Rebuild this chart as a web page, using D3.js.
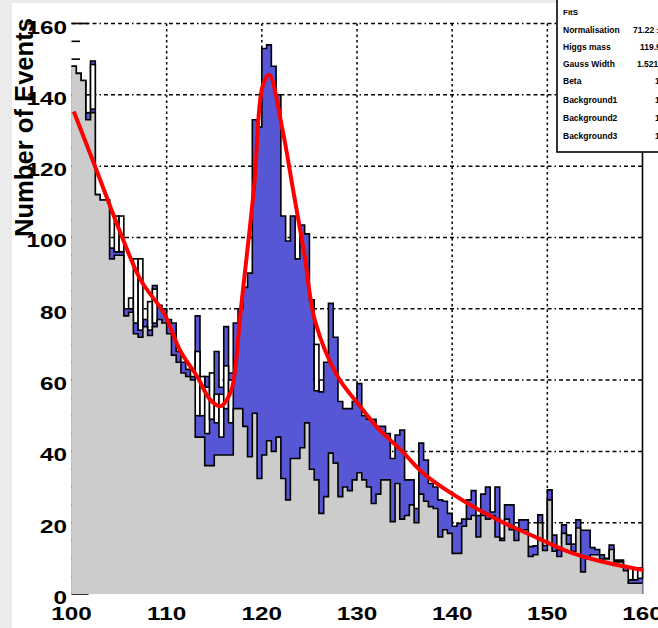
<!DOCTYPE html>
<html><head><meta charset="utf-8">
<script src="https://cdn.jsdelivr.net/npm/d3@7"></script>
<style>body{margin:0;background:#fff;} svg{display:block;}</style>
</head><body>
<svg id="c" width="658" height="628"></svg>
<script>
// ---------------- data ----------------
const xRange = [100, 160];
const binWidth = 0.5;
const blueCounts = [148,146,144,135,149.5,112,110.5,110.5,97,96, 96,80,80,76,74,77,74,86.5,81,80,
  77,76,68,65,63,61,78,55,61,49, 68,58,75,62,76,80,86,90,133,131,
  153,154,148,140,106,99,106,94,103.5,101, 82.5,60,56.7,65,81.5,72,54,52,52,54,
  59,50,49,49,47,47,45,38,44.6,46, 32,32,24,42.3,37.6,31,30,26.4,26,22.6,
  19,19.8,21,26.4,29,22,28,30,23,30, 15.6,25,25,18,20.8,20.8,13.3,13.5,22.2,13.6,
  29.2,16.5,12.3,19.4,16.5,14,20.8,17.9,17.9,13, 12.5,11,10,13.7,9.5,9.5,7.5,4,4,4.4];
const grayCounts = [148,146,144,133,135,112,110.5,110.5,94,95, 95,78,79,73,72,75,72.5,75,77,76,
  73,67,65,62,61,60,44,44,36,36, 39,39,39,39,52,52,47,38.5,50.7,32.4,
  39,43,40,44,32.4,26.4,38,38,41,48, 35,32,22.6,27.3,39.5,36.7,27.3,30,29,32,
  34,32,30,25.4,28,32,32,20.3,31,21, 22,25,20,28,26,24.5,24,16,18,17,
  11.4,11.4,19,21,22,16,22,21,22,16, 15,21,18,15,17.9,18,10.5,11,20,12.2,
  26.4,12,10.5,17,14,12,18.5,6.2,10,11, 11,9.8,9.8,12.5,9,9,6.5,3,3,3];
// white boxes (bin index, low, high)
const boxBins = [3,4,9,10,12,13,14,16,17,26,27,28,29,30,31,32,33,51,117,118,119];
const boxLow  = [135,136,96,96,80,76,74,74,76,50,50,45,49,48,44,52,48,57,4,4,4.4];
const boxHigh = [140,148.5,106,106,83,94,94,82,85.5,68,61,58,62,56,56,64,60,70,7.3,7.3,7.3];
// fit curve
const fitX = [100.24,102.35,105.16,107.26,109.72,111.47,113.2,114.6,115.7,116.7,117.1,117.79,119.19,120.07,120.77,122.18,123.23,124.45,125.6,127.97,130.07,132.2,134.6,136.7,138.1,141.65,145.16,148.66,152.2,155.7,160.07];
const fitY = [135.3,120.8,101.2,88.1,78.7,68,61,54.4,52.7,56.4,61,79.6,114.2,142.3,145.6,130.1,114.2,95.6,76.5,61,53.5,46.5,40.4,34.5,31.5,25.4,20.3,16.1,11.9,9.1,6.7];
const xTicks = [100,110,120,130,140,150,160];
const yTicks = [0,20,40,60,80,100,120,140,160];
const statTitle = "FitS";
const statNames = ["Normalisation","Higgs mass","Gauss Width","Beta","Background1","Background2","Background3"];
const statValues = ["71.22 \u00b1 4.1","119.9 \u00b1 0.2","1.521 \u00b1 0.2","1.0","1.0","1.0","1.0"];

// ---------------- drawing ----------------
const svg = d3.select("#c");
const W = 658, H = 628;
svg.append("rect").attr("width", W).attr("height", H).attr("fill", "#ebebeb");
svg.append("rect").attr("x", 12).attr("y", 3).attr("width", W - 12).attr("height", H - 3).attr("fill", "#ffffff");

const x = d3.scaleLinear().domain(xRange).range([71.5, 642.5]);
const y = d3.scaleLinear().domain([0, 160]).range([594, 23.5]);
const edges = d3.range(blueCounts.length).map(i => xRange[0] + i * binWidth);

const grid = svg.append("g").attr("stroke", "#000").attr("stroke-width", 1.5).attr("fill", "none");
yTicks.filter(v => v > 0).forEach(v => {
  grid.append("line").attr("x1", x(100)).attr("x2", x(160)).attr("y1", y(v)).attr("y2", y(v))
    .attr("stroke-dasharray", "4,3,4,3,4,3,4,3,1.5,3");
});
xTicks.filter(v => v > 100 && v < 160).forEach(v => {
  grid.append("line").attr("x1", x(v)).attr("x2", x(v)).attr("y1", y(160)).attr("y2", y(0))
    .attr("stroke-dasharray", "2.5,3");
});
// frame right edge
svg.append("line").attr("x1", x(160)).attr("x2", x(160)).attr("y1", y(160)).attr("y2", y(0))
  .attr("stroke", "#000").attr("stroke-width", 1.6);

// y ticks (major + minor)
const tickG = svg.append("g").attr("stroke", "#000").attr("stroke-width", 1.6);
d3.range(0, 161, 5).forEach(v => {
  const major = v % 20 === 0;
  tickG.append("line").attr("x1", x(100)).attr("x2", x(100) + (major ? 17 : 8.5))
    .attr("y1", y(v)).attr("y2", y(v));
});

function stepPoints(vals) {
  const pts = vals.map((v, i) => [edges[i], v]);
  pts.push([xRange[1], vals[vals.length - 1]]);
  return pts;
}
const area = d3.area().x(d => x(d[0])).y0(y(0)).y1(d => y(d[1])).curve(d3.curveStepAfter);
const line = d3.line().x(d => x(d[0])).y(d => y(d[1])).curve(d3.curveStepAfter);

// blue histogram
const bp = stepPoints(blueCounts);
svg.append("path").attr("d", area(bp)).attr("fill", "#5757d6");
svg.append("path").attr("d", line(bp)).attr("fill", "none").attr("stroke", "#000").attr("stroke-width", 1.6);

// white boxes
svg.append("g").selectAll("rect").data(boxBins.map((b, k) => ({b, lo: boxLow[k], hi: boxHigh[k]})))
  .join("rect")
  .attr("x", d => x(edges[d.b])).attr("width", d => x(edges[d.b] + binWidth) - x(edges[d.b]))
  .attr("y", d => y(d.hi)).attr("height", d => y(d.lo) - y(d.hi))
  .attr("fill", "#fff").attr("stroke", "#000").attr("stroke-width", 1.6);

// gray histogram
const gp = stepPoints(grayCounts);
svg.append("path").attr("d", area(gp)).attr("fill", "#cccccc");
svg.append("path").attr("d", line(gp)).attr("fill", "none").attr("stroke", "#000").attr("stroke-width", 1.6);

// fit curve
svg.append("path")
  .attr("d", d3.line().x(d => x(d[0])).y(d => y(d[1])).curve(d3.curveCatmullRom.alpha(0.5))(fitX.map((v, i) => [v, fitY[i]])))
  .attr("fill", "none").attr("stroke", "#ff0000").attr("stroke-width", 4).attr("stroke-linejoin", "round");

// axis labels
const font = "'Liberation Sans', Arial, sans-serif";
yTicks.forEach(v => {
  svg.append("text").attr("transform", `translate(67,${y(v) + 10}) scale(1.28,1)`)
    .attr("text-anchor", "end").attr("font-family", font).attr("font-weight", "bold")
    .attr("font-size", 19).attr("fill", "#000").text(v);
});
xTicks.forEach(v => {
  svg.append("text").attr("transform", `translate(${x(v)},620) scale(1.28,1)`)
    .attr("text-anchor", "middle").attr("font-family", font).attr("font-weight", "bold")
    .attr("font-size", 19).attr("fill", "#000").text(v);
});
svg.append("text").attr("transform", "translate(33,18) rotate(-90)")
  .attr("text-anchor", "end").attr("font-family", font).attr("font-weight", "bold")
  .attr("font-size", 25.6).attr("fill", "#000").text("Number of Events");

// stats box
const sb = svg.append("g");
sb.append("rect").attr("x", 557).attr("y", -2).attr("width", 120).attr("height", 154)
  .attr("fill", "#fff").attr("stroke", "#000").attr("stroke-width", 1.6);
const rowsY = [15, 33, 50, 67, 84, 103, 121, 139];
sb.append("text").attr("x", 563).attr("y", rowsY[0]).attr("font-family", font).attr("font-weight", "bold")
  .attr("font-size", 8).text(statTitle);
const valX = [633, 640, 637, 655, 655, 655, 655];
statNames.forEach((n, i) => {
  sb.append("text").attr("x", 563).attr("y", rowsY[i + 1]).attr("font-family", font).attr("font-weight", "bold")
    .attr("font-size", 8.5).text(n);
  sb.append("text").attr("x", valX[i]).attr("y", rowsY[i + 1]).attr("font-family", font).attr("font-weight", "bold")
    .attr("font-size", 8.5).text(statValues[i]);
});
</script>
</body></html>
